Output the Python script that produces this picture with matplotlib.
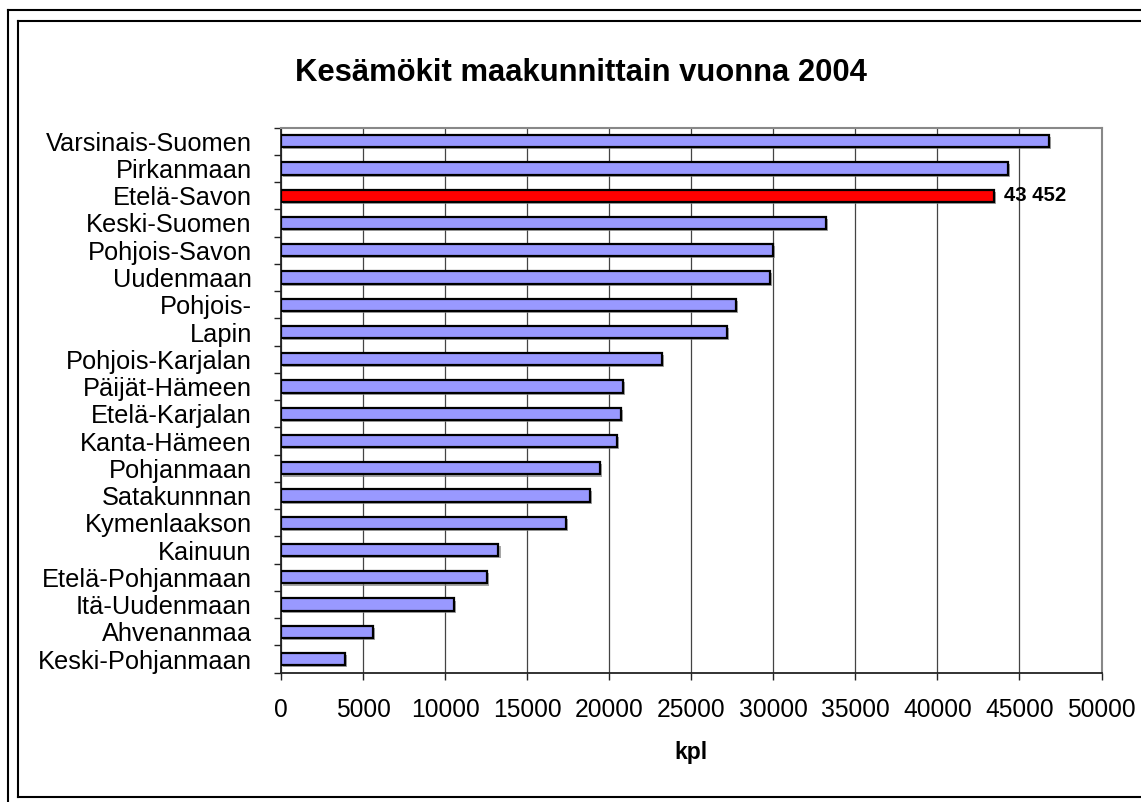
import matplotlib
matplotlib.use("Agg")
import matplotlib.pyplot as plt
from matplotlib import font_manager
from matplotlib.lines import Line2D
import matplotlib.patheffects as pe
import numpy as np

regions = ["Varsinais-Suomen", "Pirkanmaan", "Etelä-Savon", "Keski-Suomen",
           "Pohjois-Savon", "Uudenmaan", "Pohjois-", "Lapin", "Pohjois-Karjalan",
           "Päijät-Hämeen", "Etelä-Karjalan", "Kanta-Hämeen", "Pohjanmaan",
           "Satakunnnan", "Kymenlaakson", "Kainuun", "Etelä-Pohjanmaan",
           "Itä-Uudenmaan", "Ahvenanmaa", "Keski-Pohjanmaan"]
cottages = [46800, 44300, 43452, 33200, 30000, 29800, 27700, 27200, 23200,
            20830, 20700, 20480, 19420, 18830, 17390, 13250, 12560, 10540,
            5580, 3920]
highlight = "Etelä-Savon"
highlight_label = "43 452"
x_ticks = list(range(0, 50001, 5000))
title = "Kesämökit maakunnittain vuonna 2004"
xlabel = "kpl"

W, H = 1141, 802
fig = plt.figure(figsize=(W / 100, H / 100), dpi=100)
fig.patch.set_facecolor("white")

names = {f.name for f in font_manager.fontManager.ttflist}
base = "Liberation Sans" if "Liberation Sans" in names else "DejaVu Sans"
plt.rcParams["font.family"] = [base, "DejaVu Sans"]

L, R, T, B = 281, 1101.5, 127.6, 672.7
ax = fig.add_axes([L / W, 1 - B / H, (R - L) / W, (B - T) / H])

pos = np.arange(len(regions))
colors = ["#FF0000" if r == highlight else "#9999FF" for r in regions]
bars = ax.barh(pos, cottages, height=0.45, color=colors, edgecolor="black",
               linewidth=1.6, zorder=3)
for b in bars:
    b.set_path_effects([pe.SimplePatchShadow(offset=(1.5, -1.5), shadow_rgbFace="#808080", alpha=0.7),
                        pe.Normal()])

ax.set_xlim(0, 50000)
ax.set_ylim(len(regions) - 0.5, -0.5)
ax.set_xticks(x_ticks)
ax.set_xticklabels([str(t) for t in x_ticks], fontsize=17.7)
ax.set_yticks(pos)
ax.set_yticklabels(regions, fontsize=18.3)
ax.set_yticks(np.arange(-0.5, len(regions), 1.0), minor=True)
ax.tick_params(axis="y", which="major", length=0, pad=21)
ax.tick_params(axis="y", which="minor", length=5, width=1, direction="out", color="#222222")
ax.tick_params(axis="x", which="major", length=5, width=1, direction="out", color="#222222", pad=13)

ax.grid(axis="x", color="#444444", linewidth=0.9, zorder=0)
ax.set_axisbelow(True)
for s in ["left", "bottom"]:
    ax.spines[s].set_color("#222222")
    ax.spines[s].set_linewidth(1.3)
for s in ["top", "right"]:
    ax.spines[s].set_color("#888888")
    ax.spines[s].set_linewidth(1.5)

hi = regions.index(highlight)
ax.annotate(highlight_label, xy=(cottages[hi], pos[hi]), xytext=(7.5, 0),
            textcoords="offset points", va="center", ha="left",
            fontsize=14.7, fontweight="bold", zorder=5)

# title
if "Liberation Sans Narrow" in names:
    fig.text(581 / W, 1 - 80.8 / H, title, ha="center", va="baseline",
             fontsize=27, fontweight="bold", family=["Liberation Sans Narrow", "DejaVu Sans"])
else:
    fig.text(581 / W, 1 - 80.8 / H, title, ha="center", va="baseline",
             fontsize=22.3, fontweight="bold")

fig.text(691 / W, 1 - 759 / H, xlabel, ha="center", va="baseline",
         fontsize=16.5, fontweight="bold")

# outer double border
def fl(x0, y0, x1, y1, lw=1.5):
    fig.add_artist(Line2D([x0 / W, x1 / W], [1 - y0 / H, 1 - y1 / H],
                          color="black", linewidth=lw, transform=fig.transFigure))

fl(7.5, 10, W, 10)
fl(7.5, 10, 7.5, H)
fl(17.5, 21, W, 21)
fl(17.5, 21, 17.5, 797)
fl(17.5, 797, W, 797)

fig.savefig("out.png", dpi=100)
